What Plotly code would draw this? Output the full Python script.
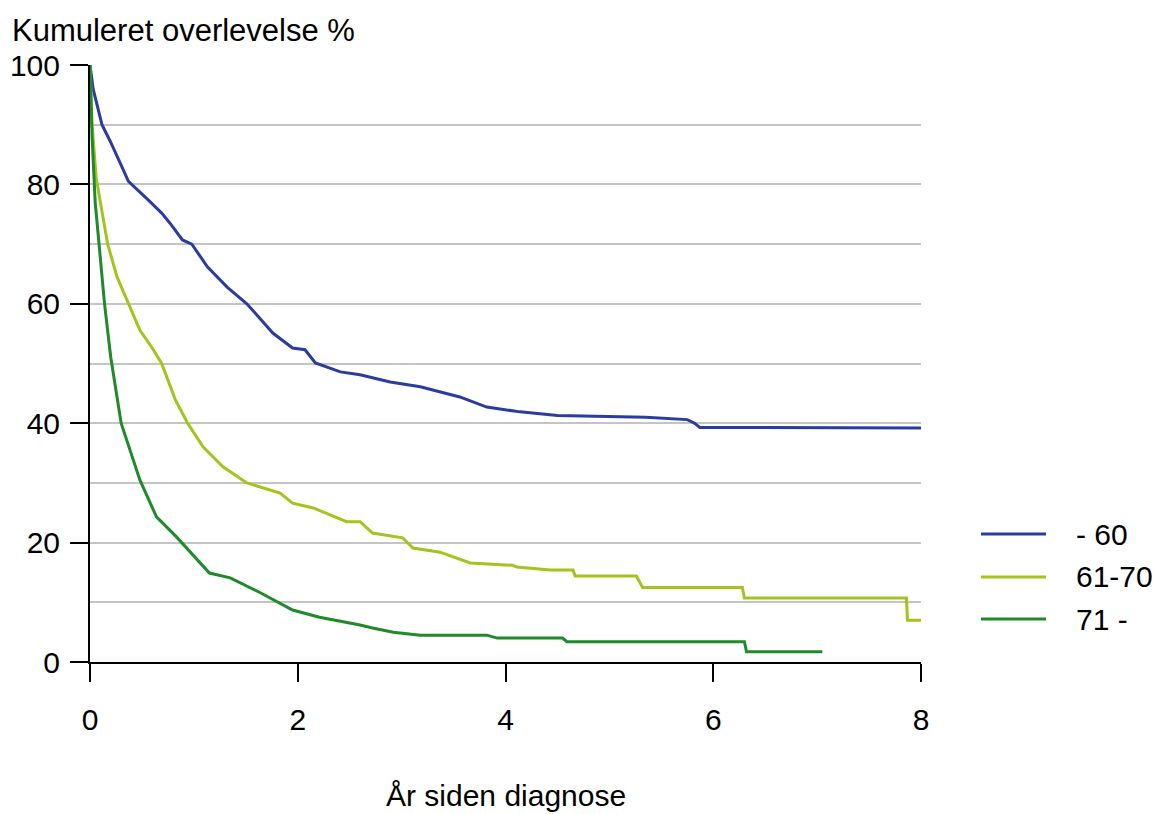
import plotly.graph_objects as go

# Kaplan-Meier style survival curves by age group
groups = ["- 60", "61-70", "71 -"]
colors = ["#2a3ca0", "#a3c41c", "#1f8a2a"]

years_60 = [0, 0.03, 0.115, 0.19, 0.29, 0.37, 0.56, 0.69, 0.77, 0.89, 0.98, 1.13, 1.32, 1.51,
            1.76, 1.95, 2.07, 2.17, 2.41, 2.6, 2.89, 3.18, 3.56, 3.82, 4.14, 4.5, 5.35, 5.75,
            5.82, 5.87, 8.0]
surv_60 = [100, 96, 90, 87.4, 83.6, 80.5, 77.4, 75.2, 73.5, 70.7, 70.0, 66.2, 62.8, 60.0,
           55.1, 52.6, 52.3, 50.1, 48.6, 48.1, 46.9, 46.1, 44.4, 42.7, 41.9, 41.3, 41.0, 40.6,
           40.0, 39.3, 39.2]

years_61_70 = [0, 0.02, 0.06, 0.12, 0.17, 0.26, 0.37, 0.48, 0.61, 0.69, 0.82, 0.94, 1.09, 1.28,
               1.51, 1.83, 1.95, 2.15, 2.47, 2.6, 2.72, 3.01, 3.11, 3.37, 3.66, 4.07, 4.11,
               4.43, 4.65, 4.67, 5.26, 5.32, 6.28, 6.3, 7.86, 7.87, 8.0]
surv_61_70 = [100, 90, 81, 75, 70, 64.5, 60, 55.6, 52.3, 50.0, 44.0, 40.0, 36.0, 32.7,
              30.0, 28.3, 26.6, 25.8, 23.5, 23.5, 21.6, 20.8, 19.1, 18.4, 16.6, 16.2, 15.9,
              15.4, 15.4, 14.4, 14.4, 12.5, 12.5, 10.7, 10.7, 7.0, 7.0]

years_71 = [0, 0.02, 0.05, 0.09, 0.14, 0.2, 0.26, 0.3, 0.48, 0.64, 0.83, 1.15, 1.35, 1.64,
            1.95, 2.21, 2.6, 2.72, 2.92, 3.18, 3.82, 3.92, 4.55, 4.59, 6.3, 6.32, 7.05]
surv_71 = [100, 88, 77, 69, 60, 51, 44.5, 40, 30.5, 24.3, 21.0, 14.9, 14.1, 11.6,
           8.7, 7.5, 6.2, 5.7, 5.0, 4.5, 4.5, 4.0, 4.0, 3.4, 3.4, 1.7, 1.7]

series = [(years_60, surv_60), (years_61_70, surv_61_70), (years_71, surv_71)]

x_ticks = [0, 2, 4, 6, 8]
y_ticks = [0, 20, 40, 60, 80, 100]

FONT = "Liberation Sans, Arial, sans-serif"
FS = 30

fig = go.Figure()
for name, color, (xs, ys) in zip(groups, colors, series):
    fig.add_trace(go.Scatter(x=xs, y=ys, mode="lines", name=name,
                             line=dict(color=color, width=3), showlegend=False))

# Legend keys drawn as short lines with labels to the right
legend_y = [0.2144, 0.1424, 0.0720]
for name, color, ly in zip(groups, colors, legend_y):
    fig.add_shape(type="line", xref="paper", yref="paper", x0=1.0722, x1=1.1504,
                  y0=ly, y1=ly, line=dict(color=color, width=3))
    fig.add_annotation(x=1.1841, y=ly, xref="paper", yref="paper", text=name,
                       showarrow=False, xanchor="left", yanchor="middle",
                       font=dict(family=FONT, size=FS, color="black"))

fig.add_annotation(x=-0.0963, y=1.0586, xref="paper", yref="paper",
                   text="Kumuleret overlevelse %", showarrow=False,
                   xanchor="left", yanchor="middle",
                   font=dict(family=FONT, size=31, color="black"))
fig.add_annotation(x=0.5, y=-0.2228, xref="paper", yref="paper",
                   text="År siden diagnose", showarrow=False,
                   xanchor="center", yanchor="middle",
                   font=dict(family=FONT, size=30, color="black"))

fig.update_layout(
    width=1164, height=814,
    margin=dict(l=90, r=243, t=65, b=152, autoexpand=False),
    paper_bgcolor="white", plot_bgcolor="white",
    font=dict(family=FONT, size=FS, color="black"),
    xaxis=dict(range=[0, 8], tickvals=x_ticks, ticks="outside", ticklen=18,
               tickwidth=2, tickcolor="black", showline=True, linewidth=2,
               linecolor="black", showgrid=False, zeroline=False,
               ticklabelstandoff=12, automargin=False),
    yaxis=dict(range=[0, 100], tickvals=y_ticks, ticks="outside", ticklen=18,
               tickwidth=2, tickcolor="black", showline=True, linewidth=2,
               linecolor="black", showgrid=True, gridcolor="#c4c4c4", gridwidth=1.5,
               zeroline=False, ticklabelstandoff=4, automargin=False,
               minor=dict(dtick=10, showgrid=True, gridcolor="#c4c4c4",
                          gridwidth=1.5, ticks="")),
)

fig.write_html("out.html")
